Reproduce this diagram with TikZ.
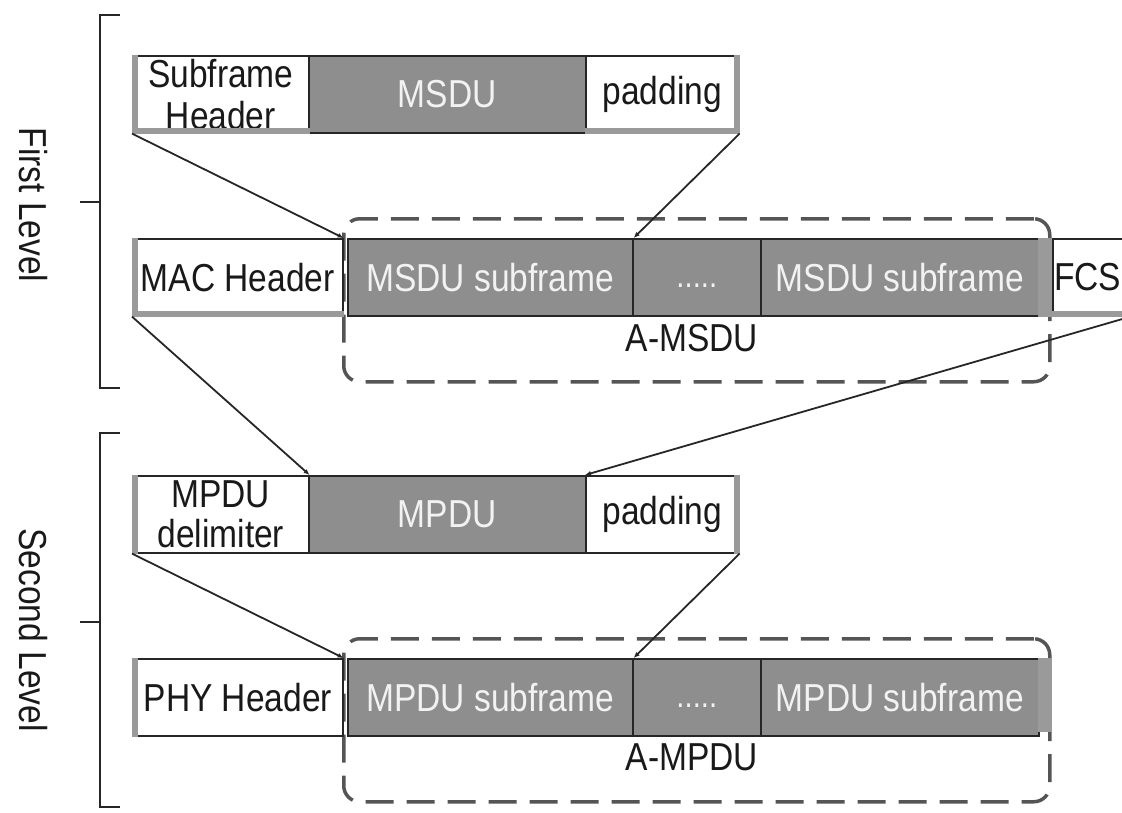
\documentclass[tikz,border=0pt]{standalone}
\usepackage{fontspec}
\setmainfont{Liberation Sans}[FakeStretch=0.86]
\usetikzlibrary{arrows.meta}
\definecolor{boxgray}{HTML}{8E8E8E}
\definecolor{stripgray}{HTML}{9A9A9A}
\definecolor{lighttxt}{HTML}{F2F2F2}
\definecolor{darkline}{HTML}{262626}
\definecolor{dashc}{HTML}{555555}
\tikzset{
  cell/.style={draw=darkline, line width=1.6pt, inner sep=0pt, anchor=north west,
     minimum height=77pt, font=\fontsize{39}{42}\selectfont, align=center},
  wcell/.style={cell, fill=white, text=black!90},
  gcell/.style={cell, fill=boxgray, text=lighttxt},
  strip/.style={stripgray, line width=6pt},
  dashbox/.style={draw=dashc, line width=3.5pt, dash pattern=on 28pt off 13pt,
     rounded corners=16pt, inner sep=0pt, anchor=north west},
  conn/.style={darkline, line width=1.8pt, -{Latex[length=6pt,width=5pt]}},
  brace/.style={draw=black!85, line width=2.6pt},
  lvl/.style={font=\fontsize{39}{42}\selectfont, rotate=-90, text=black!90},
  lab/.style={font=\fontsize{39}{42}\selectfont, text=black!90},
  dots/.style={font=\fontsize{34}{34}\selectfont, text=lighttxt, inner sep=0pt}
}
\begin{document}
\begin{tikzpicture}[x=1pt,y=-1pt]
\useasboundingbox (0,0) rectangle (1122,812);

% dashed groups
\node[dashbox, minimum width=706pt, minimum height=163pt] (gA) at (342,217) {};
\node[dashbox, minimum width=706pt, minimum height=163pt] (gB) at (342,637) {};

% Row 1
\node[wcell, minimum width=176pt] (sh) at (132,55) {Subframe\\Header};
\node[gcell, minimum width=277pt] (msdu) at (308,55) {MSDU};
\node[wcell, minimum width=153pt] (pad) at (585,55) {padding};
\draw[strip] ([xshift=3pt]sh.north west) -- ([xshift=3pt]sh.south west);
\draw[strip] ([yshift=3pt]sh.south west) -- ([yshift=3pt]sh.south east);
\draw[strip] ([yshift=3pt]pad.south west) -- ([yshift=3pt]pad.south east);
\draw[strip] ([xshift=-3pt]pad.north east) -- ([xshift=-3pt]pad.south east);

% Row 2
\node[wcell, minimum width=210pt] (mac) at (132,238) {MAC Header};
\node[gcell, minimum width=285pt] (s1) at (347,238) {MSDU subframe};
\node[gcell, minimum width=128pt] (d1) at (632,238) {};
\node[dots] (d1t) at ([yshift=-8pt]d1.center) {.....};
\node[gcell, minimum width=278pt] (s2) at (760,238) {MSDU subframe};
\node[wcell, minimum width=77pt] (fcs) at (1052,238) {};
\node[lab, anchor=west, inner sep=0pt] (fcst) at (1054,277) {FCS};
\draw[strip] ([xshift=3pt]mac.north west) -- ([xshift=3pt]mac.south west);
\draw[strip] ([yshift=3pt]mac.south west) -- ([yshift=3pt]mac.south east);
\draw[stripgray, line width=14pt] ([xshift=-7pt]fcs.north west) -- ([xshift=-7pt]fcs.south west);
\draw[strip] ([yshift=3pt]fcs.south west) -- ([yshift=3pt]fcs.south east);
\node[lab] (la) at (692,338) {A-MSDU};

% Row 3
\node[wcell, minimum width=176pt, font=\fontsize{39}{40}\selectfont] (md) at (132,475) {MPDU\\delimiter};
\node[gcell, minimum width=277pt] (mpdu) at (308,475) {MPDU};
\node[wcell, minimum width=153pt] (pad2) at (585,475) {padding};
\draw[strip] ([xshift=3pt]md.north west) -- ([xshift=3pt]md.south west);
\draw[strip] ([xshift=-3pt]pad2.north east) -- ([xshift=-3pt]pad2.south east);

% Row 4
\node[wcell, minimum width=210pt] (phy) at (132,658) {PHY Header};
\node[gcell, minimum width=285pt] (m1) at (347,658) {MPDU subframe};
\node[gcell, minimum width=128pt] (d2) at (632,658) {};
\node[dots] (d2t) at ([yshift=-8pt]d2.center) {.....};
\node[gcell, minimum width=278pt] (m2) at (760,658) {MPDU subframe};
\coordinate (tail) at (1038,658);
\fill[stripgray] (tail) rectangle ++(14,74);
\draw[strip] ([xshift=3pt]phy.north west) -- ([xshift=3pt]phy.south west);
\node[lab] (lb) at (692,757) {A-MPDU};

% connectors
\draw[conn] (sh.south west) -- (mac.north east);
\draw[conn] (pad.south east) -- (s1.north east);
\draw[conn] (mac.south west) -- (md.north east);
\draw[conn] (fcs.south east) -- (pad2.north west);
\draw[conn] (md.south west) -- (phy.north east);
\draw[conn] (pad2.south east) -- (m1.north east);

% brackets
\coordinate (b1t) at (120,15);
\coordinate (b1b) at (120,388);
\coordinate (b1m) at (80,202);
\draw[brace] (b1t) -- (100,15) -- (100,388) -- (b1b);
\draw[brace] (b1m) -- (100,202);
\node[lvl] (l1) at (33,205) {First Level};

\coordinate (b2t) at (120,433);
\coordinate (b2b) at (120,807);
\coordinate (b2m) at (80,622);
\draw[brace] (b2t) -- (100,433) -- (100,807) -- (b2b);
\draw[brace] (b2m) -- (100,622);
\node[lvl] (l2) at (33,630) {Second Level};
\end{tikzpicture}
\end{document}
